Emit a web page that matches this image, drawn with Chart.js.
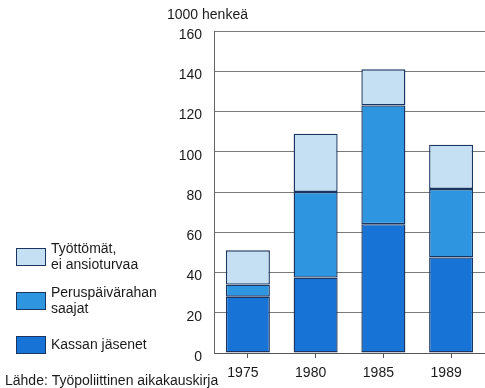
<!DOCTYPE html>
<html>
<head>
<meta charset="utf-8">
<script src="https://cdn.jsdelivr.net/npm/chart.js@4/dist/chart.umd.min.js"></script>
<style>
  html, body { margin: 0; padding: 0; background: #fff; }
  #wrap { width: 485px; height: 388px; position: relative; }
</style>
</head>
<body>
<div id="wrap"><canvas id="chart"></canvas></div>
<script>
// data (1000 persons)
const years = ['1975', '1980', '1985', '1989'];
const kassanJasenet = [28, 37.5, 64, 47.5];
const perusPaivaraha = [6, 42.5, 59, 34];
const tyottomat = [17, 29, 18, 22];
const yTicks = [0, 20, 40, 60, 80, 100, 120, 140, 160];

const unitText = '1000 henkeä';
const sourceText = 'Lähde: Työpoliittinen aikakauskirja';
const legendLines = [
  ['Työttömät,', 'ei ansioturvaa'],
  ['Peruspäivärahan', 'saajat'],
  ['Kassan jäsenet']
];

const FONT = '"Liberation Sans", Arial, sans-serif';
const darkBlue = '#1773d6';
const midBlue = '#2e95e0';
const lightBlue = '#c5e0f3';
const edge = '#1a3560';

// legend, unit label and source drawn onto the same canvas
const extras = {
  id: 'extras',
  afterDraw(chart) {
    const ctx = chart.ctx;
    ctx.save();
    ctx.font = '14px ' + FONT;
    ctx.fillStyle = '#1a1a1a';
    ctx.textBaseline = 'middle';
    ctx.textAlign = 'left';
    ctx.fillText(unitText, 167, 15);

    // legend top to bottom = datasets reversed
    const sets = chart.data.datasets.slice().reverse();
    const tops = [248, 292, 336];
    sets.forEach((ds, i) => {
      const y = tops[i];
      ctx.fillStyle = ds.backgroundColor;
      ctx.fillRect(16, y, 30, 18);
      ctx.strokeStyle = edge;
      ctx.lineWidth = 1;
      ctx.strokeRect(16.5, y + 0.5, 29, 17);
      const lines = legendLines[i];
      ctx.fillStyle = '#1a1a1a';
      const mid = y + 9;
      lines.forEach((t, k) => {
        ctx.fillText(t, 51, mid + (k - (lines.length - 1) / 2) * 16);
      });
    });

    ctx.textBaseline = 'alphabetic';
    ctx.fillText(sourceText, 5, 385);
    ctx.restore();
  }
};

new Chart(document.getElementById('chart'), {
  type: 'bar',
  data: {
    labels: years,
    datasets: [
      { label: 'Kassan jäsenet', data: kassanJasenet, backgroundColor: darkBlue },
      { label: 'Peruspäivärahan saajat', data: perusPaivaraha, backgroundColor: midBlue },
      { label: 'Työttömät, ei ansioturvaa', data: tyottomat, backgroundColor: lightBlue }
    ]
  },
  options: {
    responsive: true,
    maintainAspectRatio: false,
    animation: false,
    layout: { padding: { left: 0, right: 0, top: 31, bottom: 0 } },
    datasets: {
      bar: {
        barPercentage: 0.65,
        categoryPercentage: 1,
        borderColor: edge,
        borderWidth: 1.4,
        borderSkipped: false
      }
    },
    plugins: {
      legend: { display: false },
      tooltip: { enabled: false },
      title: { display: false }
    },
    scales: {
      x: {
        stacked: true,
        offset: true,
        afterFit: (s) => { s.height = 35; },
        grid: { offset: false, drawOnChartArea: false, drawTicks: true, tickLength: 5, color: '#555' },
        border: { display: true, color: '#555', width: 1 },
        ticks: { color: '#1a1a1a', font: { family: FONT, size: 14 }, padding: 7, labelOffset: -5 }
      },
      y: {
        stacked: true,
        min: 0,
        max: 160,
        afterFit: (s) => { s.width = 214; },
        afterBuildTicks: (s) => { s.ticks = yTicks.map(v => ({ value: v })); },
        grid: { color: '#7a7a7a', lineWidth: 1, drawTicks: false },
        border: { display: true, color: '#666', width: 1 },
        ticks: { color: '#1a1a1a', font: { family: FONT, size: 14 }, padding: 12, labelOffset: 4 }
      }
    }
  },
  plugins: [extras]
});
</script>
</body>
</html>
